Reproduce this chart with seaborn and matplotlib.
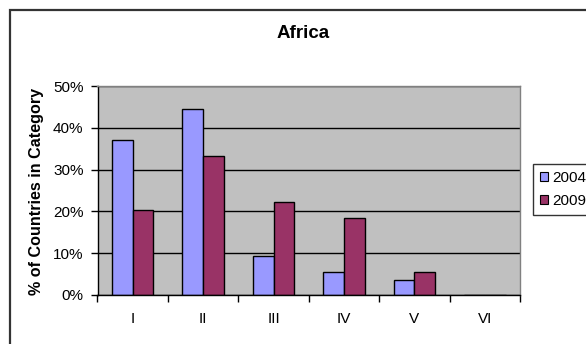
import matplotlib
matplotlib.use("Agg")
import matplotlib.pyplot as plt
from matplotlib.patches import Rectangle
from matplotlib.ticker import FixedLocator, PercentFormatter
import seaborn as sns
import pandas as pd

# Share of African countries in each category (percent)
categories = ["I", "II", "III", "IV", "V", "VI"]
share_2004 = [37.0, 44.4, 9.3, 5.6, 3.7, 0.0]
share_2009 = [20.4, 33.3, 22.2, 18.5, 5.6, 0.0]
years = ["2004", "2009"]
yticks = [0, 10, 20, 30, 40, 50]

df = pd.DataFrame({
    "category": categories * 2,
    "share": share_2004 + share_2009,
    "year": [years[0]] * len(categories) + [years[1]] * len(categories),
})

sns.set_style("white")
plt.rcParams["font.family"] = ["Liberation Sans", "DejaVu Sans"]
plt.rcParams["text.color"] = "black"
plt.rcParams["xtick.color"] = "black"
plt.rcParams["ytick.color"] = "black"
plt.rcParams["axes.labelcolor"] = "black"

W, H = 586, 344
fig = plt.figure(figsize=(W / 100, H / 100), dpi=100)
fig.patch.set_facecolor("white")

# outer chart frame
fig.add_artist(Rectangle((10 / W, -0.2), 2.0, 1 - 10 / H + 0.2,
                         transform=fig.transFigure, fill=False,
                         edgecolor="#333333", linewidth=1.6))

left, right, top, bottom = 97.5, 520, 86, 295
ax = fig.add_axes([left / W, 1 - bottom / H, (right - left) / W, (bottom - top) / H])
ax.set_facecolor("#C0C0C0")

sns.barplot(data=df, x="category", y="share", hue="year", ax=ax,
            palette={"2004": "#9999FF", "2009": "#993366"},
            width=0.59, edgecolor="black", linewidth=1.0, gap=0,
            saturation=1, legend=True)

ax.set_ylim(0, 50)
ax.set_xlim(-0.5, len(categories) - 0.5)
ax.yaxis.set_major_locator(FixedLocator(yticks))
ax.yaxis.set_major_formatter(PercentFormatter(decimals=0))
ax.set_axisbelow(True)
ax.yaxis.grid(True, color="black", linewidth=1.0)
ax.xaxis.grid(False)

for side in ["top", "right"]:
    ax.spines[side].set_visible(True)
    ax.spines[side].set_color("#808080")
    ax.spines[side].set_linewidth(1.0)
for side in ["left", "bottom"]:
    ax.spines[side].set_color("black")
    ax.spines[side].set_linewidth(1.0)

ax.tick_params(axis="y", direction="out", length=5, width=1, color="black",
               pad=5, labelsize=11, left=True, labelcolor="black")
ax.tick_params(axis="x", which="major", length=0, pad=12, labelsize=11,
               labelcolor="black")
ax.xaxis.set_minor_locator(FixedLocator([i - 0.5 for i in range(len(categories) + 1)]))
ax.tick_params(axis="x", which="minor", direction="out", length=5, width=1,
               color="black", bottom=True)
ax.set_xlabel("")
ax.set_ylabel("")

fig.text(303 / W, 1 - 34 / H, "Africa", ha="center", va="center",
         fontsize=13.5, fontweight="bold", color="black")
fig.text(37 / W, 1 - 191 / H, "% of Countries in Category", ha="center",
         va="center", rotation=90, fontsize=11.6, fontweight="bold", color="black")

handles, labels = ax.get_legend_handles_labels()
leg = ax.legend(handles, labels, loc="upper left",
                bbox_to_anchor=(533 / W, 1 - 164 / H),
                bbox_transform=fig.transFigure, frameon=True, fancybox=False,
                fontsize=11, handlelength=0.55, handleheight=0.55,
                handletextpad=0.25, borderpad=0.45, labelspacing=0.6,
                borderaxespad=0)
leg.get_frame().set_edgecolor("black")
leg.get_frame().set_linewidth(1.0)
for t in leg.get_texts():
    t.set_color("black")
for h in leg.legend_handles:
    h.set_edgecolor("black")
    h.set_linewidth(0.8)

fig.savefig("out.png", dpi=100)
